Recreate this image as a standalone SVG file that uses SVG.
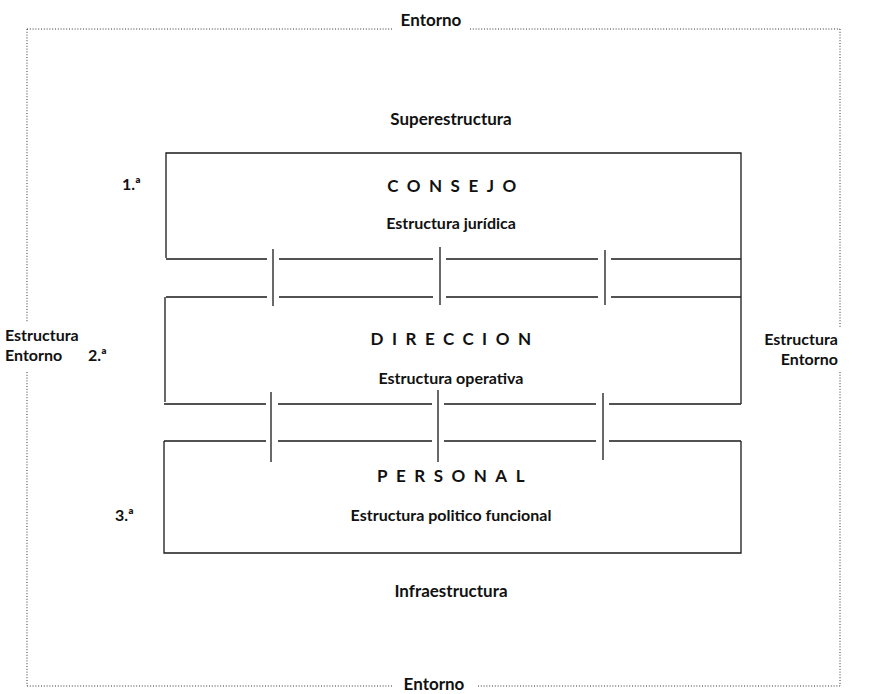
<svg xmlns="http://www.w3.org/2000/svg" width="869" height="694" viewBox="0 0 869 694">
<style>
.t{font-family:Lato,"Liberation Sans",sans-serif;font-weight:700;fill:#111;font-size:16px}
.m{text-anchor:middle}
.h{font-size:17px;letter-spacing:8.5px}
.b{font-size:17px}
.ln{stroke:#1a1a1a;stroke-width:1.3;fill:none}
.dot{stroke:#333;stroke-width:1;stroke-dasharray:1 1.8;fill:none}
</style>
<rect width="869" height="694" fill="#fff"/>
<g id="entorno">
<path class="dot" d="M27 29H392M470 29H840M27 686H392M478 686H840M27 29V322M27 372V686M840 29V328M840 372V686"/>
<text class="t b m" x="431" y="26">Entorno</text>
<text class="t b m" x="434" y="690">Entorno</text>
<text class="t" x="5" y="341">Estructura</text>
<text class="t" x="5" y="361">Entorno</text>
<text class="t" x="88" y="361">2.ª</text>
<text class="t" x="838" y="345" text-anchor="end">Estructura</text>
<text class="t" x="838" y="365" text-anchor="end">Entorno</text>
</g>
<g id="superestructura"><text class="t b m" x="451" y="125">Superestructura</text></g>
<g id="consejo">
<path class="ln" d="M166 258V153H741V262"/>
<text class="t h m" x="456" y="192">CONSEJO</text>
<text class="t m" x="451" y="229">Estructura jurídica</text>
<text class="t" x="122" y="190">1.ª</text>
</g>
<g id="direccion">
<path class="ln" d="M165 297V402M741 262V404"/>
<text class="t h m" x="455" y="345">DIRECCION</text>
<text class="t m" x="451" y="384">Estructura operativa</text>
</g>
<g id="personal">
<path class="ln" d="M164 441V553H741V441"/>
<text class="t h m" x="455" y="482">PERSONAL</text>
<text class="t m" x="451" y="521">Estructura politico funcional</text>
<text class="t" x="115" y="521">3.ª</text>
</g>
<g id="infraestructura"><text class="t b m" x="451" y="597">Infraestructura</text></g>
<g id="connectors">
<path class="ln" d="M166 259H267M279 259H433M446 259H598M611 259H741M166 297H267M279 297H433M446 297H598M611 297H741"/>
<path class="ln" d="M273 249V306M440 247V305M605 250V305"/>
<path class="ln" d="M164 404H266M278 404H432M444 404H596M609 404H741M164 441H266M278 441H432M444 441H596M609 441H741"/>
<path class="ln" d="M271 392V462M438 390V462M603 393V460"/>
</g>
</svg>
